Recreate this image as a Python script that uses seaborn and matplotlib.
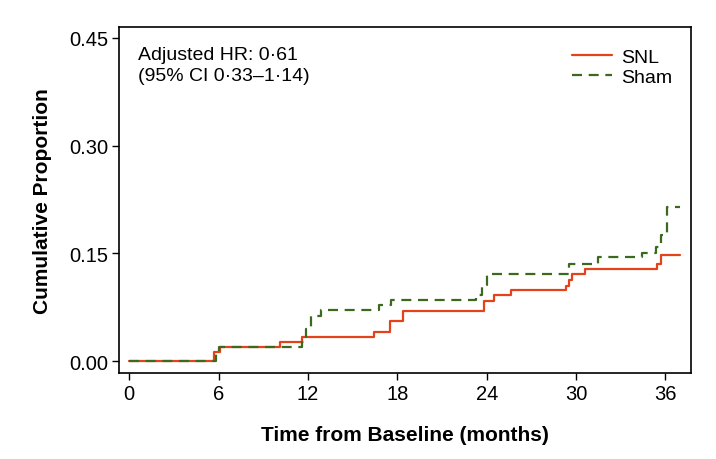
import numpy as np
import pandas as pd
import matplotlib
matplotlib.use("Agg")
import matplotlib.pyplot as plt
import seaborn as sns

# step points (months, cumulative proportion)
snl_time = [0, 5.7, 6.1, 10.1, 11.6, 16.45, 17.5, 18.4, 23.8, 24.5, 25.6,
            29.3, 29.5, 29.75, 30.6, 35.45, 35.7, 37.0]
snl_prop = [0, 0.0134, 0.0203, 0.0264, 0.034, 0.041, 0.0556, 0.070, 0.084,
            0.092, 0.099, 0.105, 0.1135, 0.121, 0.128, 0.136, 0.148, 0.148]

sham_time = [0, 5.8, 6.0, 11.6, 11.9, 12.2, 12.9, 16.8, 17.6, 23.3, 23.7,
             24.0, 29.55, 31.5, 34.4, 35.4, 35.7, 36.1, 37.0]
sham_prop = [0, 0.0135, 0.0203, 0.027, 0.045, 0.063, 0.0714, 0.078, 0.0857,
             0.0927, 0.106, 0.1215, 0.136, 0.1447, 0.1507, 0.159, 0.176,
             0.2145, 0.2145]

groups = ["SNL", "Sham"]
colors = {"SNL": "#E4421B", "Sham": "#3B6A1F"}
x_ticks = [0, 6, 12, 18, 24, 30, 36]
y_ticks = [0.00, 0.15, 0.30, 0.45]

df = pd.concat([
    pd.DataFrame({"time": snl_time, "prop": snl_prop, "group": "SNL"}),
    pd.DataFrame({"time": sham_time, "prop": sham_prop, "group": "Sham"}),
], ignore_index=True)

sns.set_theme(style="white")
plt.rcParams["font.family"] = ["Liberation Sans", "DejaVu Sans"]
plt.rcParams["text.color"] = "black"
plt.rcParams["axes.labelcolor"] = "black"
plt.rcParams["xtick.color"] = "black"
plt.rcParams["ytick.color"] = "black"

fig = plt.figure(figsize=(7.16, 4.60), dpi=100)
ax = fig.add_axes([0.1662, 0.188, 0.7985, 0.751])

sns.lineplot(data=df, x="time", y="prop", hue="group", style="group",
             hue_order=groups, style_order=groups, palette=colors,
             dashes={"SNL": "", "Sham": (4.5, 3)}, estimator=None,
             drawstyle="steps-post", linewidth=1.6, ax=ax)

ax.set_xlim(-0.69, 37.7)
ax.set_ylim(-0.0156, 0.465)
ax.set_xticks(x_ticks)
ax.set_xticklabels([str(t) for t in x_ticks])
ax.set_yticks(y_ticks)
ax.set_yticklabels([f"{t:.2f}" for t in y_ticks])
ax.tick_params(axis="both", which="both", direction="out", length=5,
               width=1.0, color="black", labelcolor="black", labelsize=14.5,
               pad=3, bottom=True, left=True, top=False, right=False)
for s in ax.spines.values():
    s.set_color("black")
    s.set_linewidth(1.2)

ax.set_xlabel("Time from Baseline (months)", fontsize=15, fontweight="bold",
              labelpad=16, color="black")
ax.set_ylabel("Cumulative Proportion", fontsize=15, fontweight="bold",
              labelpad=12, color="black")

ax.text(0.033, 0.946, "Adjusted HR: 0\u00b761\n(95% CI 0\u00b733\u20131\u00b714)",
        transform=ax.transAxes, ha="left", va="top", fontsize=14,
        linespacing=1.3, color="black")

handles, labels = ax.get_legend_handles_labels()
leg = ax.legend(handles, labels, loc="upper right", frameon=False, fontsize=14,
                handlelength=2.05, handletextpad=0.48, labelspacing=0.12,
                bbox_to_anchor=(0.998, 0.99))
for t in leg.get_texts():
    t.set_color("black")

fig.savefig("out.png", dpi=100)
